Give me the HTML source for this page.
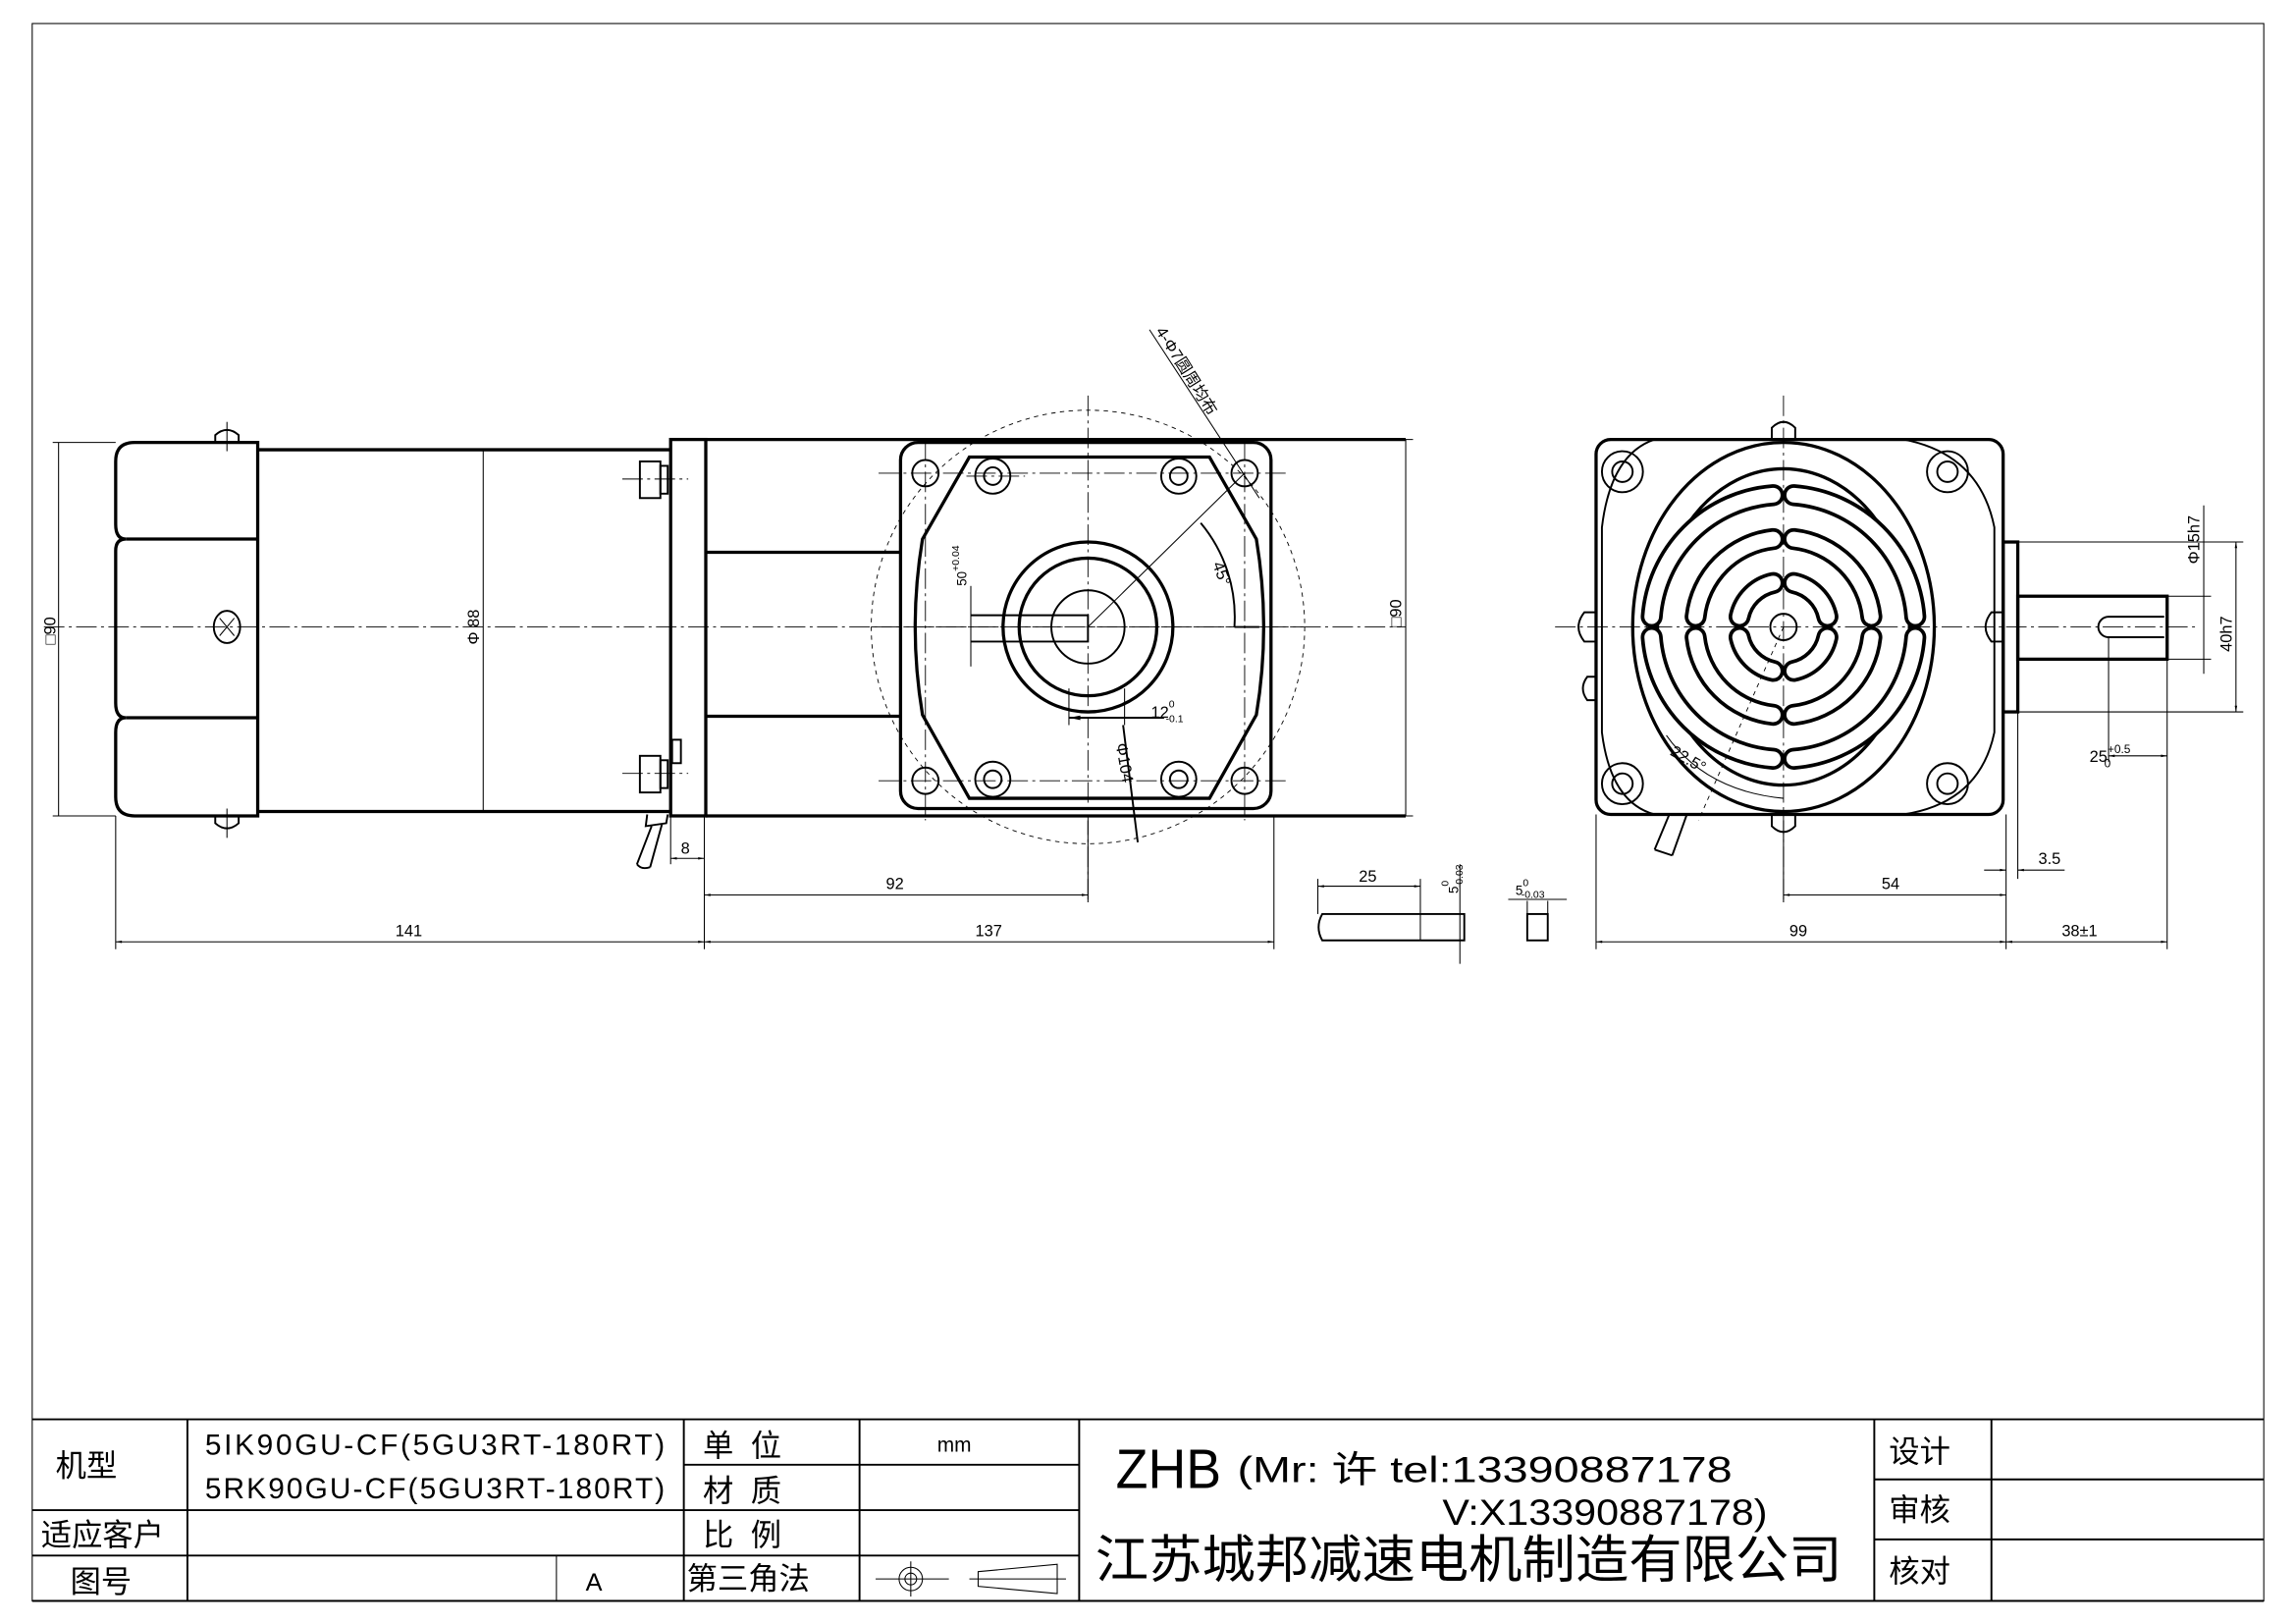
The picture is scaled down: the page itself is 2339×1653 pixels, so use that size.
<!DOCTYPE html>
<html><head><meta charset="utf-8"><style>
html,body{margin:0;padding:0;background:#fff}
svg{display:block}
text{font-family:"Liberation Sans","Noto Sans CJK SC",sans-serif;fill:#000}
.t{stroke:#000;stroke-width:2.2;fill:none}
.m{stroke:#000;stroke-width:1.3;fill:none}
.n{stroke:#000;stroke-width:0.7;fill:none}
.c{stroke:#000;stroke-width:0.6;fill:none;stroke-dasharray:14 3 2 3}
.d{stroke:#000;stroke-width:0.6;fill:none;stroke-dasharray:3 3}
</style></head><body>
<svg width="2339" height="1653" viewBox="0 0 1568 1108" xmlns="http://www.w3.org/2000/svg">
<defs>
<marker id="a" viewBox="0 0 10 10" refX="10" refY="5" markerWidth="8" markerHeight="6" orient="auto-start-reverse"><path d="M0,3 L10,5 L0,7z" fill="#000"/></marker>
</defs>
<rect x="0" y="0" width="1568" height="1108" fill="#fff"/>
<!-- frame -->
<rect x="22" y="16" width="1524" height="1077" class="n" stroke-width="1"/>
<!-- title block -->
<g class="m">
<line x1="22" y1="969" x2="1546" y2="969"/>
<line x1="22" y1="1093" x2="1546" y2="1093"/>
<line x1="22" y1="1031" x2="737" y2="1031"/>
<line x1="22" y1="1062" x2="737" y2="1062"/>
<line x1="467" y1="1000" x2="737" y2="1000"/>
<line x1="128" y1="969" x2="128" y2="1093"/>
<line x1="467" y1="969" x2="467" y2="1093"/>
<line x1="587" y1="969" x2="587" y2="1093"/>
<line x1="737" y1="969" x2="737" y2="1093"/>
<line x1="1280" y1="969" x2="1280" y2="1093"/>
<line x1="1360" y1="969" x2="1360" y2="1093"/>
<line x1="1280" y1="1010" x2="1546" y2="1010"/>
<line x1="1280" y1="1051" x2="1546" y2="1051"/>
</g>
<line x1="380" y1="1062" x2="380" y2="1093" class="n"/>
<g font-size="21">
<text x="38" y="1008">机型</text>
<text x="28" y="1055">适应客户</text>
<text x="48" y="1087">图号</text>
<text x="480" y="994">单 &#160;位</text>
<text x="480" y="1025">材 &#160;质</text>
<text x="480" y="1055">比 &#160;例</text>
<text x="469" y="1085">第三角法</text>
<text x="1290" y="998">设计</text>
<text x="1290" y="1038">审核</text>
<text x="1290" y="1080">核对</text>
</g>
<g font-size="20" font-family="Liberation Sans Narrow,Liberation Sans,sans-serif">
<text x="140" y="993" textLength="314">5IK90GU-CF(5GU3RT-180RT)</text>
<text x="140" y="1023" textLength="314">5RK90GU-CF(5GU3RT-180RT)</text>
<text x="400" y="1086" font-size="17">A</text>
<text x="640" y="991" font-size="14">mm</text>
</g>
<text x="762" y="1016" font-size="38" textLength="72" lengthAdjust="spacingAndGlyphs">ZHB</text>
<text x="845" y="1012" font-size="25" textLength="338" lengthAdjust="spacingAndGlyphs">(Mr: 许 tel:13390887178</text>
<text x="985" y="1041" font-size="25" textLength="222" lengthAdjust="spacingAndGlyphs">V:X13390887178)</text>
<text x="748" y="1077" font-size="35" textLength="510" lengthAdjust="spacingAndGlyphs">江苏城邦减速电机制造有限公司</text>
<!-- projection symbol -->
<circle cx="622" cy="1078" r="8" class="n"/><circle cx="622" cy="1078" r="4" class="n"/>
<line x1="598" y1="1078" x2="648" y2="1078" class="n"/>
<line x1="622" y1="1066" x2="622" y2="1090" class="n"/>
<path d="M668,1073 L722,1068 L722,1088 L668,1083z M662,1078 L728,1078" class="n"/>

<!-- ========= LEFT VIEW ========= -->
<line x1="30" y1="428" x2="960" y2="428" class="c"/>
<!-- cap -->
<path d="M92,302 L176,302 L176,557 L92,557 Q79,557 79,544 L79,500 Q79,490 86,490 Q79,490 79,480 L79,376 Q79,368 86,368 Q79,368 79,358 L79,315 Q79,302 92,302z" class="t"/>
<line x1="86" y1="368" x2="176" y2="368" class="t"/>
<line x1="86" y1="490" x2="176" y2="490" class="t"/>
<path d="M147,302 L147,297 Q155,290 163,297 L163,302" class="m"/>
<path d="M147,557 L147,562 Q155,569 163,562 L163,557" class="m"/>
<line x1="155" y1="288" x2="155" y2="308" class="n"/><line x1="155" y1="552" x2="155" y2="572" class="n"/>
<ellipse cx="155" cy="428" rx="9" ry="11" class="m"/>
<path d="M150,422 L160,434 M160,422 L150,434" class="n"/>
<!-- body -->
<line x1="176" y1="307" x2="458" y2="307" class="t"/>
<line x1="176" y1="554" x2="458" y2="554" class="t"/>
<line x1="330" y1="307" x2="330" y2="554" class="n"/>
<text transform="translate(327,440) rotate(-90)" font-size="11">Φ 88</text>
<!-- bolts -->
<rect x="437" y="315" width="14" height="25" class="m"/><rect x="451" y="318" width="5" height="19" class="m"/>
<rect x="437" y="516" width="14" height="25" class="m"/><rect x="451" y="519" width="5" height="19" class="m"/>
<line x1="425" y1="327" x2="470" y2="327" class="c"/><line x1="425" y1="528" x2="470" y2="528" class="c"/>
<rect x="459" y="505" width="6" height="16" class="m"/>
<!-- flange -->
<rect x="458" y="300" width="24" height="257" class="t"/>
<line x1="482" y1="300" x2="960" y2="300" class="t"/>
<line x1="482" y1="557" x2="960" y2="557" class="t"/>
<line x1="482" y1="377" x2="615" y2="377" class="t"/>
<line x1="482" y1="489" x2="615" y2="489" class="t"/>
<!-- cable -->
<path d="M442,556 L441,564 L455,562 L456,556 M445,564 L435,590 M452,563 L444,592 M435,590 Q438,594 444,592" class="m"/>
<!-- gear face -->
<rect x="615" y="302" width="253" height="250" rx="12" class="t"/>
<path d="M662,312 L826,312 L858,368 Q868,428 858,488 L826,545 L662,545 L630,488 Q620,428 630,368z" class="t"/>
<g class="m">
<circle cx="632" cy="323" r="9"/><circle cx="850" cy="323" r="9"/><circle cx="632" cy="533" r="9"/><circle cx="850" cy="533" r="9"/>
<circle cx="678" cy="325" r="12"/><circle cx="678" cy="325" r="6"/>
<circle cx="805" cy="325" r="12"/><circle cx="805" cy="325" r="6"/>
<circle cx="678" cy="532" r="12"/><circle cx="678" cy="532" r="6"/>
<circle cx="805" cy="532" r="12"/><circle cx="805" cy="532" r="6"/>
</g>
<circle cx="743" cy="428" r="58" class="t"/>
<circle cx="743" cy="428" r="47" class="t"/>
<circle cx="743" cy="428" r="25" class="m"/>
<rect x="725" y="422" width="18" height="6" fill="#fff" stroke="none"/>
<path d="M663,420 L743,420 L743,438 L663,438" class="m"/>
<line x1="663" y1="400" x2="663" y2="455" class="n"/>
<text transform="translate(660,400) rotate(-90)" font-size="9">50<tspan dy="-5" font-size="7">+0.04</tspan></text>
<circle cx="743" cy="428" r="148" class="d"/>
<line x1="743" y1="270" x2="743" y2="615" class="c"/>
<line x1="595" y1="428" x2="890" y2="428" class="c"/>
<line x1="600" y1="323" x2="880" y2="323" class="c"/><line x1="600" y1="533" x2="880" y2="533" class="c"/>
<line x1="660" y1="325" x2="700" y2="325" class="c"/>
<line x1="632" y1="300" x2="632" y2="560" class="c" stroke-width="0.4"/>
<line x1="850" y1="300" x2="850" y2="560" class="c" stroke-width="0.4"/>
<line x1="743" y1="428" x2="850" y2="323" class="n"/>
<path d="M820,357 A100,100 0 0 1 843,428" class="m"/>
<text transform="translate(828,385) rotate(70)" font-size="11">45°</text>
<line x1="860" y1="428" x2="843" y2="428" class="m"/>
<line x1="730" y1="490" x2="795" y2="490" class="m" marker-start="url(#a)"/>
<line x1="730" y1="470" x2="730" y2="495" class="n"/><line x1="768" y1="470" x2="768" y2="495" class="n"/>
<text x="786" y="490" font-size="11">12<tspan dy="-7" font-size="7">0</tspan><tspan dx="-6" dy="10" font-size="7">-0.1</tspan></text>
<line x1="767" y1="495" x2="777" y2="575" class="m"/>
<text transform="translate(762,508) rotate(80)" font-size="11">Φ104</text>
<!-- leader 4-Φ7 -->
<line x1="785" y1="225" x2="860" y2="340" class="n"/>
<text transform="translate(789,226) rotate(58)" font-size="11">4-Φ7圆周均布</text>
<!-- dims -->
<line x1="36" y1="302" x2="79" y2="302" class="n"/><line x1="36" y1="557" x2="79" y2="557" class="n"/>
<line x1="40" y1="302" x2="40" y2="557" class="n"/>
<text transform="translate(38,440) rotate(-90)" font-size="11">□90</text>
<line x1="868" y1="300" x2="965" y2="300" class="n"/><line x1="868" y1="557" x2="965" y2="557" class="n"/>
<line x1="960" y1="300" x2="960" y2="557" class="n"/>
<text transform="translate(957,428) rotate(-90)" font-size="11">□90</text>
<line x1="79" y1="557" x2="79" y2="648" class="n"/>
<line x1="481" y1="557" x2="481" y2="648" class="n"/>
<line x1="458" y1="557" x2="458" y2="590" class="n"/>
<line x1="870" y1="557" x2="870" y2="648" class="n"/>
<line x1="743" y1="560" x2="743" y2="616" class="n"/>
<line x1="79" y1="643" x2="481" y2="643" class="n" marker-start="url(#a)" marker-end="url(#a)"/>
<line x1="481" y1="643" x2="870" y2="643" class="n" marker-start="url(#a)" marker-end="url(#a)"/>
<line x1="481" y1="611" x2="743" y2="611" class="n" marker-start="url(#a)" marker-end="url(#a)"/>
<line x1="458" y1="586" x2="481" y2="586" class="n" marker-start="url(#a)" marker-end="url(#a)"/>
<text x="270" y="639" font-size="11">141</text>
<text x="666" y="639" font-size="11">137</text>
<text x="605" y="607" font-size="11">92</text>
<text x="465" y="583" font-size="11">8</text>

<!-- key -->
<path d="M903,624 L1000,624 L1000,642 L903,642 Q898,633 903,624z" class="m"/>
<line x1="970" y1="624" x2="970" y2="642" class="n"/>
<line x1="900" y1="605" x2="970" y2="605" class="n" marker-start="url(#a)" marker-end="url(#a)"/>
<line x1="900" y1="600" x2="900" y2="624" class="n"/><line x1="970" y1="600" x2="970" y2="624" class="n"/>
<text x="928" y="602" font-size="11">25</text>
<line x1="997" y1="590" x2="997" y2="658" class="n"/>
<text transform="translate(996,610) rotate(-90)" font-size="9">5<tspan dy="-7" font-size="7">0</tspan><tspan dx="-5" dy="10" font-size="7">-0.03</tspan></text>
<rect x="1043" y="624" width="14" height="18" class="m"/>
<line x1="1043" y1="615" x2="1043" y2="624" class="n"/><line x1="1057" y1="615" x2="1057" y2="624" class="n"/>
<line x1="1030" y1="614" x2="1070" y2="614" class="n"/>
<text x="1035" y="611" font-size="9">5<tspan dy="-6" font-size="7">0</tspan><tspan dx="-5" dy="8" font-size="7">-0.03</tspan></text>

<!-- ========= RIGHT VIEW ========= -->
<line x1="1062" y1="428" x2="1500" y2="428" class="c"/>
<line x1="1218" y1="270" x2="1218" y2="615" class="c"/>
<rect x="1090" y="300" width="278" height="256" rx="10" class="t"/>
<path d="M1130,300 L1300,300 Q1352,310 1362,360 L1362,500 Q1352,548 1300,556 L1130,556 Q1100,548 1094,500 L1094,360 Q1100,310 1130,300z" class="m"/>
<g class="m">
<circle cx="1108" cy="322" r="14"/><circle cx="1108" cy="322" r="7"/>
<circle cx="1330" cy="322" r="14"/><circle cx="1330" cy="322" r="7"/>
<circle cx="1108" cy="535" r="14"/><circle cx="1108" cy="535" r="7"/>
<circle cx="1330" cy="535" r="14"/><circle cx="1330" cy="535" r="7"/>
</g>
<path d="M1210,300 L1210,292 Q1218,284 1226,292 L1226,300 M1210,556 L1210,564 Q1218,572 1226,564 L1226,556" class="m"/>
<path d="M1090,418 L1082,418 Q1074,428 1082,438 L1090,438 M1368,418 L1360,418 Q1352,428 1360,438 L1368,438" class="m"/>
<path d="M1090,462 L1084,462 Q1078,470 1084,478 L1090,478" class="m"/>
<ellipse cx="1218" cy="428" rx="103" ry="126" class="t"/>
<circle cx="1218" cy="428" r="100" class="m" opacity="0"/>
<ellipse cx="1218" cy="428" rx="86" ry="108" class="t"/>
<circle cx="1218" cy="428" r="9" class="m"/>
<!-- slots -->
<g fill="none" stroke-linecap="round">
<g stroke="#000" stroke-width="15">
<path d="M1225,398 A30,30 0 0 1 1248,421 M1211,398 A30,30 0 0 0 1188,421 M1225,458 A30,30 0 0 0 1248,435 M1211,458 A30,30 0 0 1 1188,435"/>
<path d="M1225,368 A60,60 0 0 1 1278,421 M1211,368 A60,60 0 0 0 1158,421 M1225,488 A60,60 0 0 0 1278,435 M1211,488 A60,60 0 0 1 1158,435"/>
<path d="M1225,338 A90,90 0 0 1 1308,421 M1211,338 A90,90 0 0 0 1128,421 M1225,518 A90,90 0 0 0 1308,435 M1211,518 A90,90 0 0 1 1128,435"/>
</g>
<g stroke="#fff" stroke-width="10">
<path d="M1225,398 A30,30 0 0 1 1248,421 M1211,398 A30,30 0 0 0 1188,421 M1225,458 A30,30 0 0 0 1248,435 M1211,458 A30,30 0 0 1 1188,435"/>
<path d="M1225,368 A60,60 0 0 1 1278,421 M1211,368 A60,60 0 0 0 1158,421 M1225,488 A60,60 0 0 0 1278,435 M1211,488 A60,60 0 0 1 1158,435"/>
<path d="M1225,338 A90,90 0 0 1 1308,421 M1211,338 A90,90 0 0 0 1128,421 M1225,518 A90,90 0 0 0 1308,435 M1211,518 A90,90 0 0 1 1128,435"/>
</g>
</g>
<line x1="1218" y1="428" x2="1160" y2="560" class="d"/>
<path d="M1138,502 Q1165,540 1218,545" class="n"/>
<text transform="translate(1140,515) rotate(30)" font-size="11">22.5°</text>
<path d="M1140,556 L1130,580 M1152,556 L1142,584 M1130,580 L1142,584" class="m"/>
<!-- shaft -->
<rect x="1368" y="370" width="10" height="116" class="t"/>
<rect x="1378" y="407" width="102" height="43" class="t"/>
<path d="M1440,421 L1478,421 M1440,435 L1478,435 M1440,421 A7,7 0 0 0 1440,435" class="m"/>
<!-- right dims -->
<line x1="1378" y1="370" x2="1532" y2="370" class="n"/><line x1="1378" y1="486" x2="1532" y2="486" class="n"/>
<line x1="1527" y1="370" x2="1527" y2="486" class="n" marker-start="url(#a)" marker-end="url(#a)"/>
<text transform="translate(1524,445) rotate(-90)" font-size="11">40h7</text>
<line x1="1480" y1="407" x2="1510" y2="407" class="n"/><line x1="1480" y1="450" x2="1510" y2="450" class="n"/>
<line x1="1505" y1="345" x2="1505" y2="460" class="n"/>
<text transform="translate(1502,385) rotate(-90)" font-size="11">Φ15h7</text>
<line x1="1440" y1="435" x2="1440" y2="520" class="n"/>
<line x1="1480" y1="450" x2="1480" y2="648" class="n"/>
<line x1="1440" y1="516" x2="1480" y2="516" class="n" marker-start="url(#a)" marker-end="url(#a)"/>
<text x="1427" y="520" font-size="11">25<tspan dy="-6" font-size="8">+0.5</tspan><tspan dx="-18" dy="10" font-size="8">0</tspan></text>
<line x1="1090" y1="556" x2="1090" y2="648" class="n"/>
<line x1="1370" y1="556" x2="1370" y2="648" class="n"/>
<line x1="1378" y1="486" x2="1378" y2="600" class="n"/>
<line x1="1218" y1="560" x2="1218" y2="616" class="n"/>
<line x1="1090" y1="643" x2="1370" y2="643" class="n" marker-start="url(#a)" marker-end="url(#a)"/>
<line x1="1370" y1="643" x2="1480" y2="643" class="n" marker-start="url(#a)" marker-end="url(#a)"/>
<line x1="1218" y1="611" x2="1370" y2="611" class="n" marker-start="url(#a)" marker-end="url(#a)"/>
<line x1="1355" y1="594" x2="1370" y2="594" class="n" marker-end="url(#a)"/>
<line x1="1410" y1="594" x2="1378" y2="594" class="n" marker-end="url(#a)"/>
<text x="1392" y="590" font-size="11">3.5</text>
<text x="1222" y="639" font-size="11">99</text>
<text x="1285" y="607" font-size="11">54</text>
<text x="1408" y="639" font-size="11">38±1</text>
</svg>
</body></html>
